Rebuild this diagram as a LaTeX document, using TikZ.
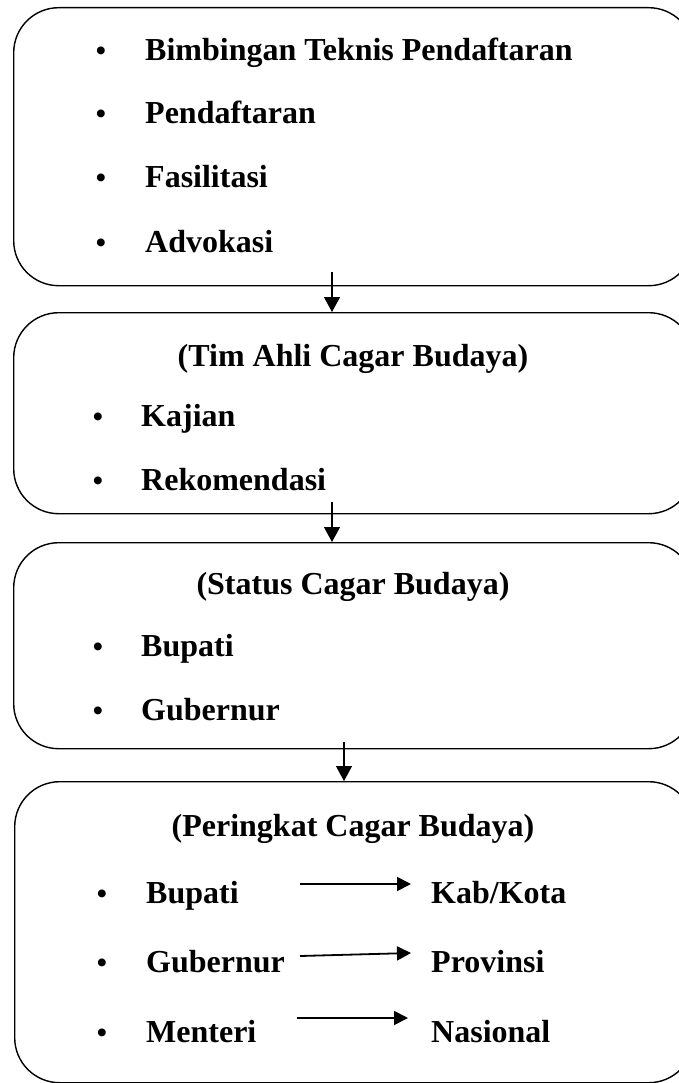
\documentclass[tikz,border=0pt]{standalone}
\usepackage{fontspec}
\setmainfont{Liberation Serif}
\usetikzlibrary{arrows.meta}
\tikzset{
  box/.style={draw, line width=1.4pt, rounded corners=45pt, anchor=north west, inner sep=0pt},
  txt/.style={anchor=base west, inner sep=0pt, font=\fontsize{32}{38}\selectfont\bfseries},
  ttl/.style={anchor=base, inner sep=0pt, font=\fontsize{32}{38}\selectfont\bfseries},
  bul/.style={anchor=base, inner sep=0pt, font=\fontsize{29}{34}\selectfont\bfseries},
  arr/.style={line width=1.4pt, -{Triangle[width=16pt,length=15pt]}},
  arrs/.style={line width=1.8pt, -{Triangle[width=14pt,length=14pt]}}
}
\begin{document}
\begin{tikzpicture}[x=1pt,y=-1pt]
\useasboundingbox (0,0) rectangle (679,1083);
\clip (0,0) rectangle (679,1083);
% boxes
\node[box, minimum width=680pt, minimum height=278pt] (b1) at (13,7) {};
\node[box, minimum width=680pt, minimum height=201pt] (b2) at (13,312) {};
\node[box, minimum width=680pt, minimum height=206pt] (b3) at (13,542) {};
\node[box, minimum width=679pt, minimum height=301pt] (b4) at (14,781) {};
% box 1
\node[bul] (p1) at (101,61) {•};
\node[txt] (t1) at (145,61) {Bimbingan Teknis Pendaftaran};
\node[bul] (p2) at (101,124) {•};
\node[txt] (t2) at (145,124) {Pendaftaran};
\node[bul] (p3) at (101,188) {•};
\node[txt] (t3) at (145,188) {Fasilitasi};
\node[bul] (p4) at (101,252) {•};
\node[txt] (t4) at (145,252) {Advokasi};
% box 2
\node[ttl] (h2) at (353,366) {(Tim Ahli Cagar Budaya)};
\node[bul] (q1) at (98,426) {•};
\node[txt] (k1) at (141,426) {Kajian};
\node[bul] (q2) at (98,490) {•};
\node[txt] (k2) at (141,490) {Rekomendasi};
% box 3
\node[ttl] (h3) at (353,594) {(Status Cagar Budaya)};
\node[bul] (r1) at (98,656) {•};
\node[txt] (s1) at (141,656) {Bupati};
\node[bul] (r2) at (98,720) {•};
\node[txt] (s2) at (141,720) {Gubernur};
% box 4
\node[ttl] (h4) at (353,836) {(Peringkat Cagar Budaya)};
\node[bul] (u1) at (102,903) {•};
\node[txt] (v1) at (146,903) {Bupati};
\node[bul] (u2) at (102,972) {•};
\node[txt] (v2) at (146,972) {Gubernur};
\node[bul] (u3) at (102,1042) {•};
\node[txt] (v3) at (146,1042) {Menteri};
\node[txt] (w1) at (431,903) {Kab/Kota};
\node[txt] (w2) at (431,972) {Provinsi};
\node[txt] (w3) at (431,1042) {Nasional};
% connector endpoints
\coordinate (a1s) at (332,272);
\coordinate (a1e) at (332,312);
\coordinate (a2s) at (332,502);
\coordinate (a2e) at (332,542);
\coordinate (a3s) at (344,742);
\coordinate (a3e) at (344,781);
\draw[arr] (a1s) -- (a1e);
\draw[arr] (a2s) -- (a2e);
\draw[arr] (a3s) -- (a3e);
% internal arrows
\coordinate (g1s) at (300,884);
\coordinate (g1e) at (411,884);
\coordinate (g2s) at (300,956);
\coordinate (g2e) at (411,953);
\coordinate (g3s) at (297,1018);
\coordinate (g3e) at (408,1018);
\draw[arrs] (g1s) -- (g1e);
\draw[arrs] (g2s) -- (g2e);
\draw[arrs] (g3s) -- (g3e);
\end{tikzpicture}
\end{document}
